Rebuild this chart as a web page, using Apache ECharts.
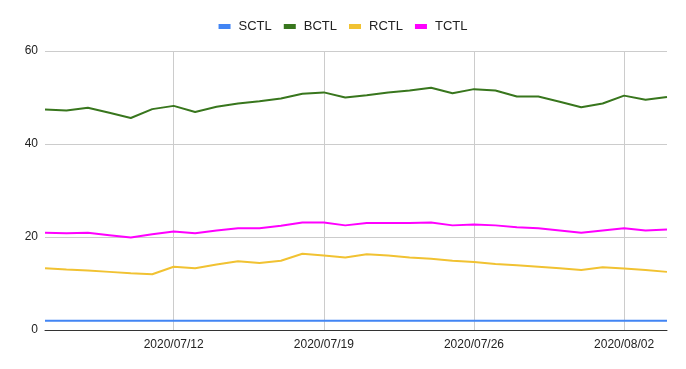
<!DOCTYPE html>
<html><head><meta charset="utf-8">
<script src="https://cdn.jsdelivr.net/npm/echarts@6/dist/echarts.min.js"></script>
<style>html,body{margin:0;padding:0;background:#fff}#c{width:686px;height:369px}</style>
</head><body><div id="c"></div>
<script>
var dates = ["2020/07/06","2020/07/07","2020/07/08","2020/07/09","2020/07/10","2020/07/11","2020/07/12","2020/07/13","2020/07/14","2020/07/15","2020/07/16","2020/07/17","2020/07/18","2020/07/19","2020/07/20","2020/07/21","2020/07/22","2020/07/23","2020/07/24","2020/07/25","2020/07/26","2020/07/27","2020/07/28","2020/07/29","2020/07/30","2020/07/31","2020/08/01","2020/08/02","2020/08/03","2020/08/04"];
var sctl = [2,2,2,2,2,2,2,2,2,2,2,2,2,2,2,2,2,2,2,2,2,2,2,2,2,2,2,2,2,2];
var bctl = [47.4,47.2,47.8,46.7,45.6,47.5,48.2,46.9,48.0,48.7,49.2,49.8,50.8,51.1,50.0,50.5,51.1,51.5,52.1,50.9,51.8,51.5,50.2,50.2,49.1,47.9,48.7,50.4,49.5,50.1];
var rctl = [13.3,13.0,12.8,12.5,12.2,12.0,13.6,13.3,14.1,14.8,14.4,14.9,16.4,16.0,15.6,16.3,16.0,15.6,15.3,14.9,14.6,14.2,13.9,13.6,13.3,12.9,13.5,13.2,12.9,12.5];
var tctl = [20.9,20.8,20.9,20.4,19.9,20.6,21.2,20.8,21.4,21.9,21.9,22.4,23.1,23.1,22.5,23.0,23.0,23.0,23.1,22.5,22.7,22.5,22.1,21.9,21.4,20.9,21.4,21.9,21.4,21.6];
var yTicks = [0,20,40,60];

var font = "Arial, 'Liberation Sans', sans-serif";
function mk(name, data, color){
  return {name:name, type:'line', data:data, symbol:'none', showSymbol:false,
    lineStyle:{width:2, color:color}, itemStyle:{color:color}, animation:false};
}
var chart = echarts.init(document.getElementById('c'));
chart.setOption({
  animation:false,
  textStyle:{fontFamily:font},
  legend:{top:15, left:'center', icon:'rect', itemWidth:12, itemHeight:5, itemGap:12,
    textStyle:{fontFamily:font, fontSize:13, color:'#222', padding:[0,0,0,3]},
    data:['SCTL','BCTL','RCTL','TCTL']},
  grid:{left:45, right:19, top:51, bottom:39},
  xAxis:{type:'category', data:dates, boundaryGap:false,
    axisLine:{show:true, lineStyle:{color:'#333', width:1}},
    axisTick:{show:false},
    axisLabel:{interval:function(i){return i%7===6;}, color:'#222', fontSize:12, fontFamily:font, margin:9},
    splitLine:{show:true, interval:function(i){return i%7===6;}, lineStyle:{color:'#ccc', width:1}}},
  yAxis:{type:'value', min:yTicks[0], max:yTicks[yTicks.length-1], interval:20,
    axisLine:{show:false}, axisTick:{show:false},
    axisLabel:{color:'#222', fontSize:12, fontFamily:font, margin:7, padding:[3,0,0,0]},
    splitLine:{lineStyle:{color:'#ccc', width:1}}},
  series:[mk('SCTL', sctl, '#4285F4'), mk('BCTL', bctl, '#38761D'), mk('RCTL', rctl, '#F1C232'), mk('TCTL', tctl, '#FF00FF')]
});
</script></body></html>
